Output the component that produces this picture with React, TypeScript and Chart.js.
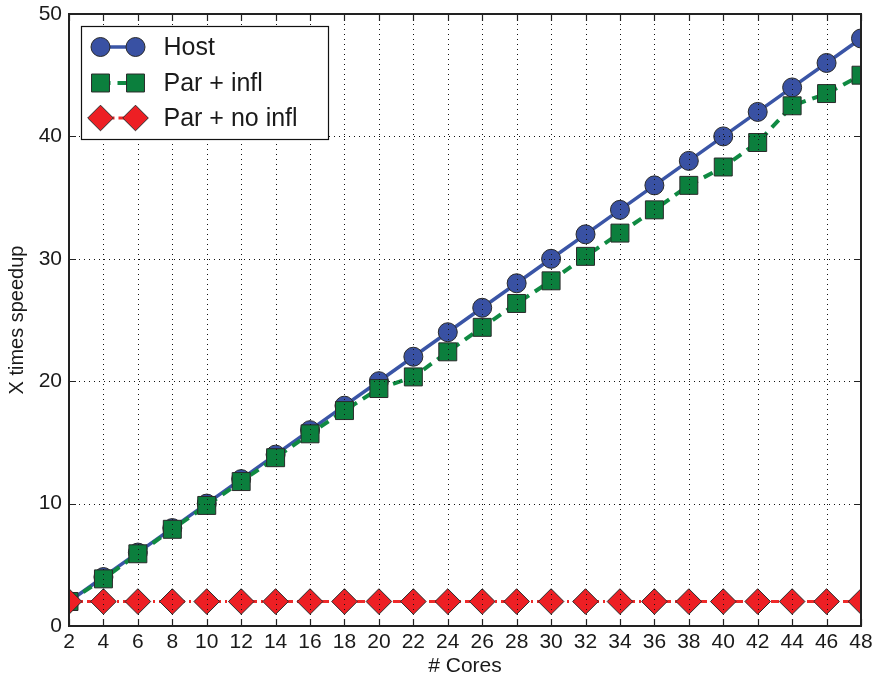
import React, { useEffect, useRef } from 'react';
import { Chart, registerables } from 'chart.js';

Chart.register(...registerables);

const cores = [2, 4, 6, 8, 10, 12, 14, 16, 18, 20, 22, 24, 26, 28, 30, 32, 34, 36, 38, 40, 42, 44, 46, 48];
const hostSpeedup = [2, 4, 6, 8, 10, 12, 14, 16, 18, 20, 22, 24, 26, 28, 30, 32, 34, 36, 38, 40, 42, 44, 46, 48];
const parInflSpeedup = [2, 3.85, 5.9, 7.9, 9.85, 11.8, 13.75, 15.7, 17.6, 19.4, 20.35, 22.4, 24.4, 26.35, 28.2, 30.2, 32.1, 34.0, 36.0, 37.5, 39.5, 42.5, 43.5, 45.0];
const parNoInflSpeedup = [2, 2, 2, 2, 2, 2, 2, 2, 2, 2, 2, 2, 2, 2, 2, 2, 2, 2, 2, 2, 2, 2, 2, 2];
const seriesNames = ['Host', 'Par + infl', 'Par + no infl'];
const xTitle = '# Cores';
const yTitle = 'X times speedup';

const FONT = '"Liberation Sans", Arial, Helvetica, sans-serif';

const styles = [
  { line: '#3a55a6', fill: '#3951a3', dash: [] as number[], width: 3.5, shape: 'circle', r: 9.5 },
  { line: '#0f8a42', fill: '#0b7f3d', dash: [10, 7], width: 4, shape: 'rect', r: 12.7 },
  { line: '#ee2a2a', fill: '#ed1f24', dash: [8, 4, 2, 4], width: 3, shape: 'rectRot', r: 12.8 },
];

function drawMarker(ctx: CanvasRenderingContext2D, shape: string, x: number, y: number, r: number, fill: string) {
  ctx.beginPath();
  if (shape === 'circle') {
    ctx.arc(x, y, r, 0, Math.PI * 2);
  } else if (shape === 'rect') {
    const s = Math.SQRT1_2 * r;
    ctx.rect(x - s, y - s, 2 * s, 2 * s);
  } else {
    ctx.moveTo(x - r, y);
    ctx.lineTo(x, y - r);
    ctx.lineTo(x + r, y);
    ctx.lineTo(x, y + r);
    ctx.closePath();
  }
  ctx.fillStyle = fill;
  ctx.fill();
  ctx.lineWidth = 1;
  ctx.strokeStyle = '#2a2a2a';
  ctx.setLineDash([]);
  ctx.stroke();
}

const framePlugin = {
  id: 'matlabFrame',
  afterDatasetsDraw(chart: any) {
    const { ctx, chartArea } = chart;
    const { left, right, top, bottom } = chartArea;
    const xs = chart.scales.x;
    const ys = chart.scales.y;
    ctx.save();
    // dotted grid
    ctx.strokeStyle = '#111';
    ctx.lineWidth = 1;
    ctx.setLineDash([1, 4]);
    xs.ticks.forEach((t: any) => {
      const px = Math.round(xs.getPixelForValue(t.value)) + 0.5;
      if (px - left < 2 || right - px < 2) return;
      ctx.beginPath();
      ctx.moveTo(px, top);
      ctx.lineTo(px, bottom);
      ctx.stroke();
    });
    ys.ticks.forEach((t: any) => {
      const py = Math.round(ys.getPixelForValue(t.value)) + 0.5;
      if (py - top < 2 || bottom - py < 2) return;
      ctx.beginPath();
      ctx.moveTo(left, py);
      ctx.lineTo(right, py);
      ctx.stroke();
    });
    // inward ticks
    ctx.setLineDash([]);
    ctx.strokeStyle = '#222';
    ctx.lineWidth = 1.2;
    const tl = 7;
    xs.ticks.forEach((t: any) => {
      const px = Math.round(xs.getPixelForValue(t.value)) + 0.5;
      ctx.beginPath();
      ctx.moveTo(px, bottom);
      ctx.lineTo(px, bottom - tl);
      ctx.moveTo(px, top);
      ctx.lineTo(px, top + tl);
      ctx.stroke();
    });
    ys.ticks.forEach((t: any) => {
      const py = Math.round(ys.getPixelForValue(t.value)) + 0.5;
      ctx.beginPath();
      ctx.moveTo(left, py);
      ctx.lineTo(left + tl, py);
      ctx.moveTo(right, py);
      ctx.lineTo(right - tl, py);
      ctx.stroke();
    });
    // box
    ctx.lineWidth = 2;
    ctx.strokeStyle = '#222';
    ctx.strokeRect(left, top, right - left, bottom - top);

    // legend
    const lx = left + 12.5;
    const ly = top + 12.5;
    const lw = 247;
    const lh = 113;
    ctx.fillStyle = '#fff';
    ctx.fillRect(lx, ly, lw, lh);
    ctx.lineWidth = 1.2;
    ctx.strokeStyle = '#111';
    ctx.strokeRect(lx, ly, lw, lh);
    const rows = [ly + 20.5, ly + 56.5, ly + 91.5];
    const m1 = lx + 19;
    const m2 = lx + 54;
    seriesNames.forEach((name, i) => {
      const st = styles[i];
      const yy = rows[i];
      ctx.beginPath();
      ctx.strokeStyle = st.line;
      ctx.lineWidth = st.width;
      ctx.setLineDash(st.dash);
      ctx.moveTo(m1, yy);
      ctx.lineTo(m2, yy);
      ctx.stroke();
      drawMarker(ctx, st.shape, m1, yy, st.r, st.fill);
      drawMarker(ctx, st.shape, m2, yy, st.r, st.fill);
      ctx.fillStyle = '#1a1a1a';
      ctx.font = `25px ${FONT}`;
      ctx.textBaseline = 'middle';
      ctx.textAlign = 'left';
      ctx.fillText(name, lx + 82, yy + 1);
    });
    ctx.restore();
  },
};

export default function App() {
  const ref = useRef<HTMLCanvasElement | null>(null);
  useEffect(() => {
    document.body.style.margin = '0';
    const canvas = ref.current;
    if (!canvas) return;
    const mk = (data: number[], i: number, order: number) => ({
      label: seriesNames[i],
      data: cores.map((c, k) => ({ x: c, y: data[k] })),
      borderColor: styles[i].line,
      borderWidth: styles[i].width,
      borderDash: styles[i].dash,
      backgroundColor: styles[i].fill,
      pointStyle: styles[i].shape,
      pointRadius: styles[i].r,
      pointHoverRadius: styles[i].r,
      pointBackgroundColor: styles[i].fill,
      pointBorderColor: '#2a2a2a',
      pointBorderWidth: 1,
      tension: 0,
      fill: false,
      order,
    });
    const chart = new Chart(canvas, {
      type: 'line',
      data: {
        datasets: [
          mk(hostSpeedup, 0, 3),
          mk(parInflSpeedup, 1, 2),
          mk(parNoInflSpeedup, 2, 1),
        ] as any,
      },
      options: {
        animation: false,
        responsive: false,
        events: [],
        layout: { autoPadding: false, padding: { top: 14, right: 13, left: 0, bottom: 0 } },
        plugins: { legend: { display: false }, tooltip: { enabled: false } },
        scales: {
          x: {
            type: 'linear',
            min: 2,
            max: 48,
            grid: { display: false, drawTicks: false },
            border: { display: false },
            ticks: { stepSize: 2, color: '#1a1a1a', font: { family: FONT, size: 21 }, padding: 4, maxRotation: 0, autoSkip: false },
            title: { display: true, text: xTitle, color: '#1a1a1a', font: { family: FONT, size: 21 }, padding: { top: 0, bottom: 0.5 } },
            afterFit: (s: any) => {
              s.height = 53;
              s.paddingLeft = 0;
              s.paddingRight = 0;
            },
          },
          y: {
            type: 'linear',
            min: 0,
            max: 50,
            grid: { display: false, drawTicks: false },
            border: { display: false },
            ticks: { stepSize: 10, color: '#1a1a1a', font: { family: FONT, size: 21 }, padding: 7 },
            title: { display: true, text: yTitle, color: '#1a1a1a', font: { family: FONT, size: 20 }, padding: { top: 5, bottom: 0 } },
            afterFit: (s: any) => {
              s.width = 69;
              s.paddingTop = 0;
              s.paddingBottom = 0;
            },
          },
        },
      } as any,
      plugins: [framePlugin],
    });
    return () => chart.destroy();
  }, []);
  return (
    <div style={{ width: 874, height: 679 }}>
      <canvas ref={ref} width={874} height={679} style={{ width: 874, height: 679, display: 'block' }} />
    </div>
  );
}
